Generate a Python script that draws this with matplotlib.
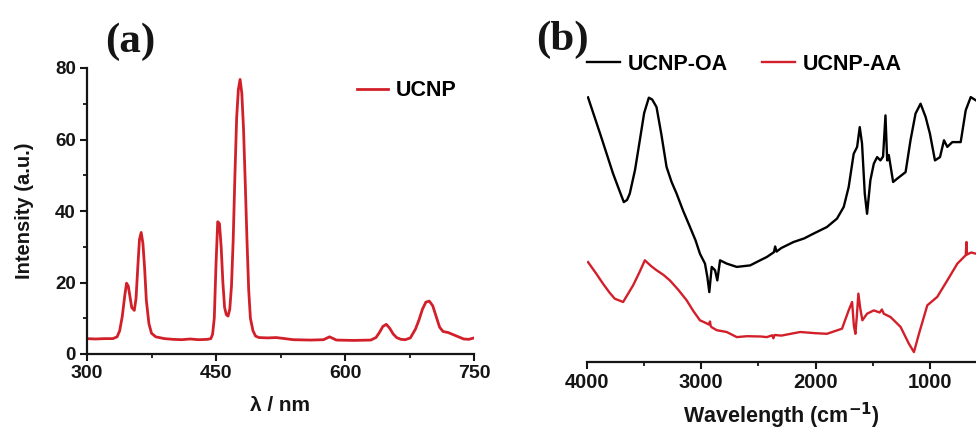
import matplotlib
matplotlib.use("Agg")
import matplotlib.pyplot as plt
from matplotlib.ticker import MultipleLocator

# ---------------- Data ----------------
# Panel (a): upconversion emission spectrum
wl_a = [300, 310, 320, 330, 335, 338, 341, 344, 346, 348, 350, 352, 355, 357, 359, 361, 363,
        365, 367, 369, 372, 375, 380, 390, 400, 410, 420, 430, 440, 444, 446, 448, 450, 452,
        454, 456, 458, 460, 462, 464, 466, 468, 470, 472, 474, 476, 478, 480, 482, 484, 486,
        488, 490, 493, 496, 500, 510, 520, 540, 560, 575, 582, 590, 610, 630, 636, 640, 644,
        648, 652, 656, 660, 665, 670, 676, 682, 686, 690, 694, 698, 702, 706, 710, 714, 720,
        726, 732, 738, 744, 750]
int_a = [4.3, 4.2, 4.3, 4.3, 4.8, 6.5, 10.5, 16.5, 19.8, 19.0, 16.0, 13.0, 12.2, 15.5, 24.0, 32.0, 34.0,
         31.0, 24.0, 15.0, 8.5, 5.8, 4.8, 4.3, 4.1, 4.0, 4.2, 4.0, 4.1, 4.3, 5.5, 10.0, 25.0, 37.0,
         36.5, 30.0, 20.0, 13.0, 11.0, 10.6, 12.5, 19.0, 32.0, 50.0, 66.0, 74.0, 76.8, 73.0, 63.0, 48.0, 32.0,
         18.0, 10.0, 6.5, 5.0, 4.6, 4.5, 4.6, 4.0, 3.9, 4.0, 4.8, 3.9, 3.8, 3.9, 4.6, 6.0, 7.7,
         8.3, 7.2, 5.6, 4.6, 4.1, 4.0, 4.5, 7.0, 9.5, 12.5, 14.5, 14.8, 13.5, 10.5, 7.5, 6.3, 6.0,
         5.4, 4.8, 4.2, 4.1, 4.5]

# Panel (b): FTIR spectra (arbitrary transmittance units)
wn_oa = [3991, 3880, 3772, 3720, 3678, 3650, 3626, 3580, 3538, 3500, 3459, 3430, 3392, 3350, 3304,
         3260, 3216, 3160, 3099, 3050, 3012, 2968, 2947, 2930, 2909, 2880, 2860, 2836, 2778, 2690,
         2573, 2480, 2427, 2365, 2354, 2342, 2300, 2193, 2100, 2018, 1901, 1813, 1754, 1711, 1667,
         1637, 1614, 1594, 1570, 1550, 1521, 1491, 1462, 1433, 1410, 1389, 1374, 1360, 1322, 1287,
         1213, 1170, 1126, 1082, 1038, 1000, 956, 912, 877, 848, 804, 731, 687, 643, 597]
tr_oa = [88.2, 75.5, 62.8, 57.5, 53.3, 54.0, 56.1, 64.0, 73.9, 83.0, 88.1, 87.5, 85.0, 76.0, 65.0,
         60.0, 56.1, 50.5, 45.0, 40.5, 36.1, 32.8, 28.3, 23.3, 31.7, 30.6, 27.2, 33.9, 32.8, 31.7,
         32.2, 34.0, 35.0, 36.6, 38.5, 36.8, 38.0, 40.0, 41.2, 42.8, 45.0, 47.8, 51.7, 58.3, 69.4,
         71.7, 78.3, 72.8, 56.1, 49.4, 60.6, 66.1, 68.3, 67.2, 68.5, 82.2, 67.2, 69.0, 60.0, 61.1,
         63.3, 73.9, 82.8, 86.1, 81.7, 76.1, 67.2, 68.3, 73.9, 71.7, 73.3, 73.3, 83.9, 88.3, 87.2]

wn_aa = [3991, 3920, 3860, 3800, 3757, 3684, 3640, 3596, 3540, 3494, 3440, 3392, 3330, 3275, 3200,
         3129, 3070, 3012, 2960, 2935, 2924, 2918, 2910, 2865, 2778, 2690, 2600, 2480, 2427, 2380,
         2370, 2360, 2300, 2135, 2000, 1901, 1769, 1711, 1681, 1665, 1652, 1640, 1626, 1610, 1591,
         1550, 1491, 1440, 1420, 1404, 1345, 1257, 1184, 1140, 1096, 1023, 936, 848, 760, 687, 680,
         676, 640, 597]
tr_aa = [33.3, 29.5, 26.1, 23.0, 21.1, 20.0, 22.8, 25.6, 30.0, 33.9, 32.0, 30.6, 29.0, 27.2, 24.0,
         20.6, 17.0, 13.9, 13.0, 12.5, 13.5, 12.0, 11.6, 10.6, 10.0, 8.3, 8.6, 8.5, 8.3, 8.9,
         7.9, 9.0, 8.8, 10.0, 9.6, 9.4, 11.1, 17.2, 20.0, 12.0, 9.4, 15.0, 22.8, 18.0, 13.9,
         16.1, 17.2, 16.5, 17.5, 16.1, 15.0, 11.7, 6.1, 3.3, 9.4, 18.9, 21.7, 27.2, 32.8, 35.6, 40.0,
         35.8, 36.5, 36.1]

# ---------------- Style ----------------
RED = "#d2202a"
TXT = "#151515"
plt.rcParams["font.family"] = ["Liberation Sans", "DejaVu Sans"]
plt.rcParams["font.weight"] = "bold"
plt.rcParams["mathtext.default"] = "bf"

fig = plt.figure(figsize=(9.76, 4.34), dpi=100)

# ---------- Panel (a) ----------
axa = fig.add_axes([87 / 976, 80 / 434, 387 / 976, 286 / 434])
axa.plot(wl_a, int_a, color=RED, lw=2.0, label="UCNP")
axa.set_xlim(300, 750)
axa.set_ylim(0, 80)
axa.xaxis.set_major_locator(MultipleLocator(150))
axa.xaxis.set_minor_locator(MultipleLocator(75))
axa.yaxis.set_major_locator(MultipleLocator(20))
axa.yaxis.set_minor_locator(MultipleLocator(10))
for s in ("top", "right"):
    axa.spines[s].set_visible(False)
for s in ("left", "bottom"):
    axa.spines[s].set_linewidth(1.6)
    axa.spines[s].set_color(TXT)
axa.tick_params(which="major", direction="out", length=5, width=1.5, colors=TXT)
axa.tick_params(which="minor", direction="out", length=3, width=1.3, colors=TXT)
axa.tick_params(axis="x", which="major", labelsize=14, pad=3)
axa.tick_params(axis="y", which="major", labelsize=13.5, pad=3)
for lab in axa.get_xticklabels() + axa.get_yticklabels():
    lab.set_fontweight("bold")
axa.set_xlabel("λ / nm", fontsize=15, fontweight="bold", color=TXT, labelpad=10)
axa.set_ylabel("Intensity (a.u.)", fontsize=14.5, fontweight="bold", color=TXT, labelpad=15)
axa.legend(loc="center left", bbox_to_anchor=(357 / 976, 1 - 91 / 434),
           bbox_transform=fig.transFigure, frameon=False, borderpad=0, borderaxespad=0,
           handlelength=1.45, handletextpad=0.33, prop={"size": 15.5, "weight": "bold"})
fig.text(130 / 976, 1 - 42 / 434, "(a)", ha="center", va="center", fontsize=31,
         fontweight="bold", family=["Liberation Serif", "DejaVu Serif"], color=TXT)

# ---------- Panel (b) ----------
axb = fig.add_axes([587 / 976, 72 / 434, 389 / 976, 300 / 434])
axb.plot(wn_oa, tr_oa, color="black", lw=1.7, label="UCNP-OA")
axb.plot(wn_aa, tr_aa, color=RED, lw=1.7, label="UCNP-AA")
axb.set_xlim(4000, 597)
axb.set_ylim(0, 100)
axb.xaxis.set_major_locator(MultipleLocator(1000))
axb.xaxis.set_minor_locator(MultipleLocator(500))
axb.set_yticks([])
for s in ("top", "right", "left"):
    axb.spines[s].set_visible(False)
axb.spines["bottom"].set_linewidth(1.6)
axb.spines["bottom"].set_color(TXT)
axb.tick_params(which="major", direction="out", length=5, width=1.5, labelsize=14.5,
                colors=TXT, pad=3)
axb.tick_params(which="minor", direction="out", length=3, width=1.3, colors=TXT)
for lab in axb.get_xticklabels():
    lab.set_fontweight("bold")
axb.set_xlabel("Wavelength (cm$^{-1}$)", fontsize=15.5, fontweight="bold",
               color=TXT, labelpad=6)
axb.legend(loc="center left", bbox_to_anchor=(587 / 976, 1 - 64 / 434),
           bbox_transform=fig.transFigure, frameon=False, borderpad=0, borderaxespad=0,
           ncol=2, handlelength=1.55, handletextpad=0.33, columnspacing=1.6,
           prop={"size": 15.5, "weight": "bold"})
fig.text(562 / 976, 1 - 40 / 434, "(b)", ha="center", va="center", fontsize=31,
         fontweight="bold", family=["Liberation Serif", "DejaVu Serif"], color=TXT)

fig.savefig("out.png", dpi=100)
